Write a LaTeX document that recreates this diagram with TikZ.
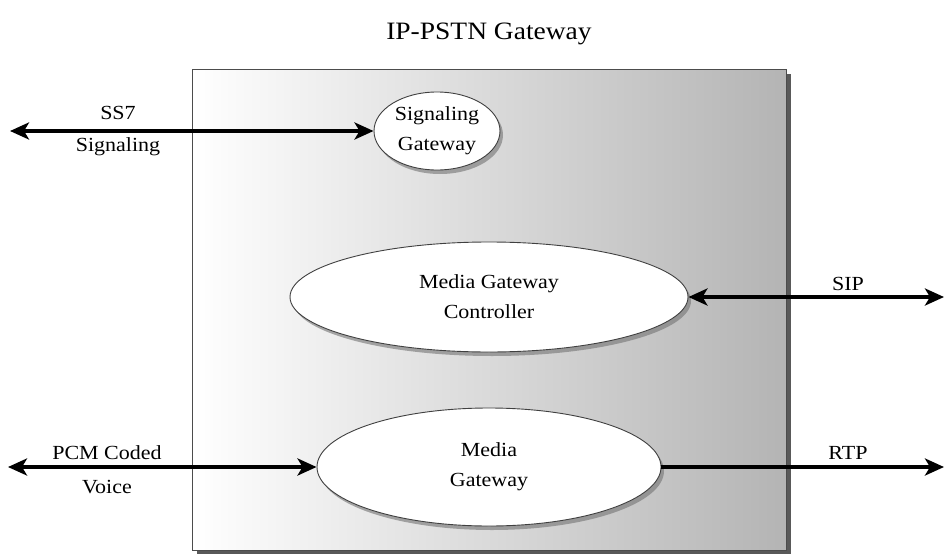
\documentclass[tikz,border=0pt]{standalone}
\usepackage{fontspec}
\setmainfont[FakeStretch=1.1]{Liberation Serif}
\usetikzlibrary{shapes.geometric,arrows.meta,shadows}
\begin{document}
\begin{tikzpicture}[x=1pt,y=-1pt,
  lbl/.style={font=\fontsize{20}{24}\selectfont, align=center, inner sep=0pt},
  ell/.style={ellipse, draw=black!75, line width=0.9pt, fill=white, inner sep=0pt,
    align=center, font=\fontsize{20}{30}\selectfont,
    drop shadow={shadow xshift=3pt, shadow yshift=-4pt, fill=black!55, opacity=0.6}},
  conn/.style={line width=3.6pt, black},
  tip/.style={-{Stealth[length=19pt,width=17pt,inset=5pt]}},
  tips/.style={{Stealth[length=19pt,width=17pt,inset=5pt]}-{Stealth[length=19pt,width=17pt,inset=5pt]}}
]
\useasboundingbox (0,0) rectangle (945,554);
% box shadow
\fill[black!65] (197,74) rectangle (791,554);
% box
\node[draw=black!70, line width=0.7pt, minimum width=594pt, minimum height=481pt,
  inner sep=0pt, anchor=north west, left color=white, right color={rgb,255:red,180;green,180;blue,180},
  shading angle=90] (box) at (192,69) {};
\node[font=\fontsize{25}{30}\selectfont, inner sep=0pt] (title) at (489,34) {IP-PSTN Gateway};

\node[ell, minimum width=126pt, minimum height=78pt] (sg) at (437,131) {Signaling\\Gateway};
\node[ell, minimum width=398pt, minimum height=110pt] (mgc) at (489,297) {Media Gateway\\Controller};
\node[ell, minimum width=344pt, minimum height=118pt] (mg) at (489,467) {Media\\Gateway};

\coordinate (ss7) at (10,131);
\coordinate (sip) at (944,297);
\coordinate (pcm) at (8,467);
\coordinate (rtp) at (944,467);

\draw[conn,tips] (ss7) -- (sg.west);
\draw[conn,tips] (mgc.east) -- (sip);
\draw[conn,tips] (pcm) -- (mg.west);
\draw[conn,tip] (mg.east) -- (rtp);

\node[lbl] (l1) at (118,113) {SS7};
\node[lbl] (l2) at (118,147) {Signaling};
\node[lbl] (l3) at (848,284) {SIP};
\node[lbl] (l4) at (107,453) {PCM Coded};
\node[lbl] (l5) at (107,487) {Voice};
\node[lbl] (l6) at (848,453) {RTP};
\end{tikzpicture}
\end{document}
